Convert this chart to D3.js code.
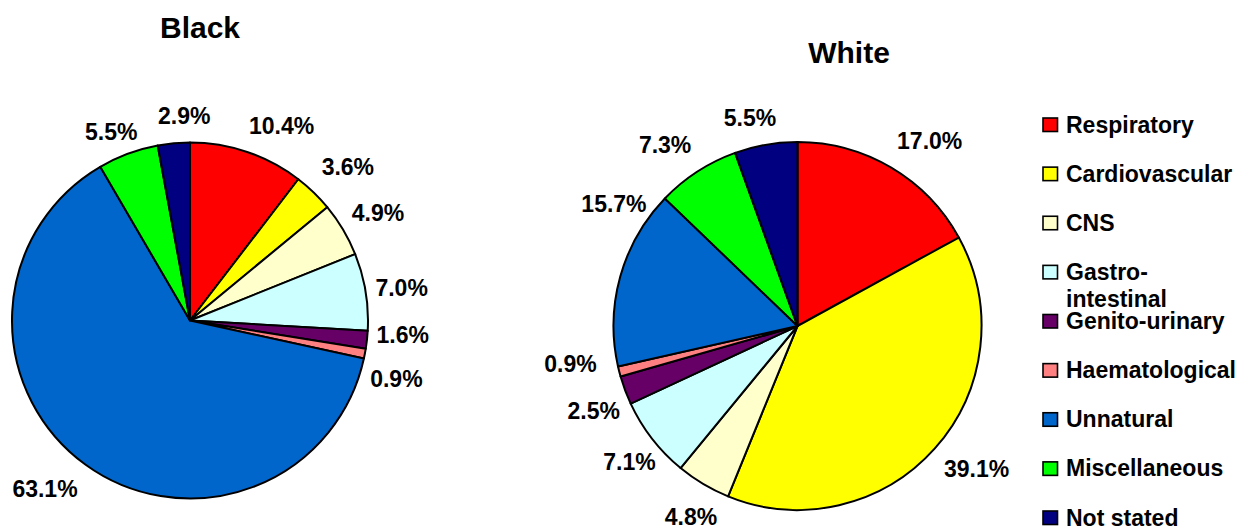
<!DOCTYPE html>
<html>
<head>
<meta charset="utf-8">
<script src="https://cdn.jsdelivr.net/npm/d3@7"></script>
<style>
  html, body { margin: 0; padding: 0; background: #fff; }
  svg { display: block; font-family: "Liberation Sans", Arial, sans-serif; font-weight: bold; }
</style>
</head>
<body>
<svg id="chart" width="1242" height="528"></svg>
<script>
// Causes of death, share of cases (%)
const categories = ["Respiratory", "Cardiovascular", "CNS", "Gastro-intestinal", "Genito-urinary",
                    "Haematological", "Unnatural", "Miscellaneous", "Not stated"];
const legendLines = [["Respiratory"], ["Cardiovascular"], ["CNS"], ["Gastro-", "intestinal"], ["Genito-urinary"],
                     ["Haematological"], ["Unnatural"], ["Miscellaneous"], ["Not stated"]];
const blackShares = [10.4, 3.6, 4.9, 7.0, 1.6, 0.9, 63.1, 5.5, 2.9];
const whiteShares = [17.0, 39.1, 4.8, 7.1, 2.5, 0.9, 15.7, 7.3, 5.5];
const groupTitles = ["Black", "White"];
const sliceColors = ["#FF0000", "#FFFF00", "#FFFFCC", "#CCFFFF", "#660066",
                     "#FF8080", "#0066CC", "#00FF00", "#000080"];

// Layout of the two pies and small per-label offsets (degrees, px) that keep labels clear of each other
const pieLayout = [
  { title: groupTitles[0], values: blackShares, cx: 190, cy: 320.5, r: 178, titleX: 200, titleY: 38,
    labelTurn: [6.4, 1.7, 0.8, 0.4, -2.3, 5.1, 4.8, -2.3, 3.6],
    labelPush: [4, 6, 0, -3, -3.5, -3, 4, -3.4, 6] },
  { title: groupTitles[1], values: whiteShares, cx: 797.5, cy: 326, r: 184, titleX: 849, titleY: 62.5,
    labelTurn: [4.9, -3.2, -1.6, -1.1, -2.2, 4.8, 18.2, -3.2, -2.9],
    labelPush: [5.6, 2, 2, -6, -2.7, 7, -7, 6, 4] }
];

const svg = d3.select("#chart");
const color = d3.scaleOrdinal().domain(categories).range(sliceColors);
const fmt = v => d3.format(".1f")(v) + "%";
const pie = d3.pie().sort(null).value(d => d.value);

pieLayout.forEach(cfg => {
  const data = categories.map((c, i) => ({ cat: c, value: cfg.values[i], i }));
  const arcs = pie(data);
  const arc = d3.arc().innerRadius(0).outerRadius(cfg.r);

  svg.append("text")
    .attr("x", cfg.titleX).attr("y", cfg.titleY)
    .attr("text-anchor", "middle")
    .attr("font-size", 30)
    .text(cfg.title);

  const g = svg.append("g").attr("transform", `translate(${cfg.cx},${cfg.cy})`);
  g.selectAll("path.slice").data(arcs).join("path")
    .attr("class", "slice")
    .attr("d", arc)
    .attr("fill", d => color(d.data.cat))
    .attr("stroke", "#000")
    .attr("stroke-width", 2)
    .attr("stroke-linejoin", "round");

  // Percentage labels outside each slice
  const labels = g.selectAll("text.pct").data(arcs).join("text")
    .attr("class", "pct")
    .attr("font-size", 23)
    .attr("text-anchor", "middle")
    .text(d => fmt(d.data.value));

  labels.each(function(d) {
    const w = this.getComputedTextLength();
    const h = 17;
    const a = (d.startAngle + d.endAngle) / 2 + cfg.labelTurn[d.data.i] * Math.PI / 180;
    const s = Math.sin(a), c = Math.cos(a);
    const dist = cfg.r + 12 + (w / 2) * Math.abs(s) + (h / 2) * Math.abs(c) + cfg.labelPush[d.data.i];
    d3.select(this)
      .attr("x", dist * s)
      .attr("y", -dist * c + 8.3);
  });
});

// Legend
const legendY = d3.scalePoint().domain(categories).range([125, 518]);
const legend = svg.append("g");
categories.forEach((c, i) => {
  const y = legendY(c);
  legend.append("rect")
    .attr("x", 1043).attr("y", y - 7)
    .attr("width", 14.5).attr("height", 13.5)
    .attr("fill", color(c))
    .attr("stroke", "#000").attr("stroke-width", 1.6);
  const t = legend.append("text")
    .attr("x", 1066).attr("y", y + 7.5)
    .attr("font-size", 23);
  legendLines[i].forEach((line, k) => {
    t.append("tspan").attr("x", 1066).attr("dy", k === 0 ? 0 : 27).text(line);
  });
});
</script>
</body>
</html>
